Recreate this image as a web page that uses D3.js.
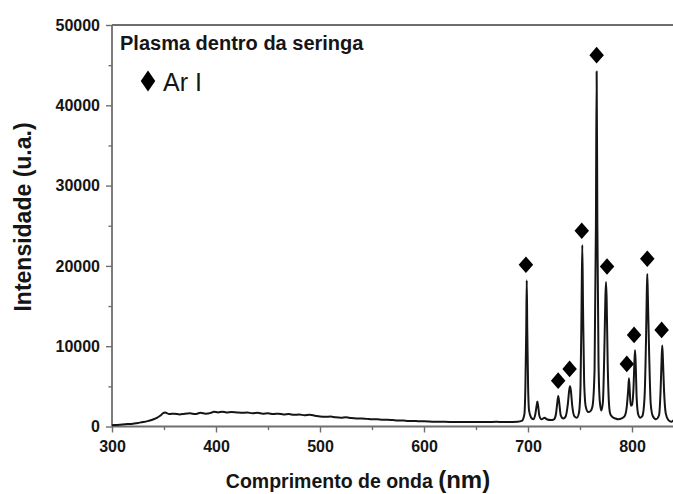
<!DOCTYPE html>
<html><head><meta charset="utf-8">
<script src="https://cdn.jsdelivr.net/npm/d3@7"></script>
<style>
html,body{margin:0;padding:0;background:#fff;}
svg{display:block;font-family:"Liberation Sans",Arial,sans-serif;}
</style></head>
<body>
<svg id="chart" width="673" height="494"></svg>
<script>
// ---- data ----
const xTicks = [300, 400, 500, 600, 700, 800];
const yTicks = [0, 10000, 20000, 30000, 40000, 50000];
const wavelength = [300,305,310,315,320,325,330,335,340,344,347,349,351,355,360,365,370,375,380,385,390,395,398,402,406,410,415,420,425,430,435,440,445,450,455,460,465,470,475,480,485,490,495,500,505,510,515,520,525,530,535,540,545,550,555,560,565,570,575,580,585,590,595,600,610,620,630,640,650,660,670,675,680,690,694,696.5,697.5,698.3,698.8,699.3,700.1,701,703,705,707,708.3,709,709.7,711,713,716,718,722,725,726.8,728.2,729.1,730,731.5,734,736,738.3,739.6,740.4,741.2,742.6,744.5,747,749,750.5,751.5,752.2,752.9,754,755.5,758,760,762,764,765.3,766,766.7,767.8,769,770.5,772,773.5,774.4,775,775.6,776.6,777.8,779,781,784,787,790,793,795,796.3,797.1,797.8,798.8,800,801.5,802.3,802.9,803.5,804.5,806,808,810,812,813.5,814.2,814.7,815.2,816.5,818,820,823,826,827.5,828.5,829.1,829.7,830.8,832.5,835,838,840];
const intensity  = [150,200,250,300,350,450,550,700,900,1150,1400,1650,1750,1550,1600,1500,1600,1650,1550,1700,1600,1700,1850,1750,1850,1750,1800,1750,1700,1750,1650,1700,1600,1650,1550,1600,1500,1550,1450,1500,1400,1450,1350,1250,1200,1250,1150,1100,1150,1050,1000,1000,950,900,900,850,850,800,750,750,700,700,650,650,600,600,550,550,550,550,600,550,550,600,700,1500,5000,12000,18200,12000,5000,2000,1100,900,1500,2600,3100,2600,1300,900,1100,900,800,900,1500,3000,3800,3000,1400,1000,1200,2800,4500,5000,4500,2500,1300,1100,1700,5000,15000,22600,15000,5500,2500,1800,1900,2500,7000,25000,44200,25000,8000,3200,2000,3000,10000,16000,18000,16000,8000,3000,1600,1200,1000,900,1000,1300,2500,4500,6000,4500,2600,2700,5000,8000,9500,8000,3500,1500,1100,1300,3500,11000,16500,19000,16500,9000,2800,1300,900,1400,4500,8500,10100,8500,4500,1600,800,600,800];
const lineNm = [698, 729, 740, 751.7, 766, 776, 795, 802, 814.7, 828.5];
const lineMark = [20140, 5710, 7170, 24380, 46240, 19930, 7790, 11410, 20890, 12030];
const titleText = "Plasma dentro da seringa";
const legendText = "Ar I";

// ---- layout ----
const svg = d3.select("#chart");
const x = d3.scaleLinear().domain([300, 800]).range([112, 632]);
const y = d3.scaleLinear().domain([0, 50000]).range([426.5, 25]);
const axisColor = "#6e6e6e";
const ink = "#151515";

svg.append("defs").append("clipPath").attr("id","plotclip")
  .append("rect").attr("x",112).attr("y",0).attr("width",561).attr("height",430);

// frame top
svg.append("line").attr("x1",x(300)).attr("x2",x(900)).attr("y1",y(50000)).attr("y2",y(50000))
  .attr("stroke",axisColor).attr("stroke-width",1.8);

// minor ticks
const gx = svg.append("g").attr("transform",`translate(0,${y(0)})`);
gx.call(d3.axisBottom(x).tickValues(d3.range(350, 850, 100)).tickSize(3.5).tickFormat(""));
const gy = svg.append("g").attr("transform",`translate(${x(300)},0)`);
gy.call(d3.axisLeft(y).tickValues(d3.range(5000, 50000, 10000)).tickSize(3.5).tickFormat(""));
// major ticks
const gx2 = svg.append("g").attr("transform",`translate(0,${y(0)})`);
gx2.call(d3.axisBottom(x).tickValues(xTicks).tickSize(6).tickPadding(8).tickFormat(d3.format("d")));
const gy2 = svg.append("g").attr("transform",`translate(${x(300)},0)`);
gy2.call(d3.axisLeft(y).tickValues(yTicks).tickSize(6).tickPadding(6).tickFormat(d3.format("d")));

svg.selectAll(".domain").attr("stroke",axisColor).attr("stroke-width",1.8);
svg.selectAll(".tick line").attr("stroke",axisColor).attr("stroke-width",1.4);
svg.selectAll(".tick text").attr("fill",ink).attr("font-size",16).attr("font-weight","bold");
gx.select(".domain").remove(); gy.select(".domain").remove();
gx2.select(".domain").attr("d",`M${x(300)},0H673`);
gy2.select(".domain").attr("d",`M0,${y(0)}V${y(50000)}`);

// spectrum
const pts = wavelength.map((w,i)=>[w, intensity[i]]);
svg.append("path").datum(pts)
  .attr("clip-path","url(#plotclip)")
  .attr("fill","none").attr("stroke",ink).attr("stroke-width",2).attr("stroke-linejoin","round")
  .attr("d", d3.line().x(d=>x(d[0])).y(d=>y(d[1])).curve(d3.curveMonotoneX));

// diamonds
const diamondType = {
  draw(ctx, size) {
    const r = Math.sqrt(size) / 2;
    ctx.moveTo(0, -r * 1.15); ctx.lineTo(r, 0); ctx.lineTo(0, r * 1.15); ctx.lineTo(-r, 0); ctx.closePath();
  }
};
const diamond = d3.symbol().type(diamondType).size(210);
svg.append("g").selectAll("path").data(lineNm).join("path")
  .attr("transform",(d,i)=>`translate(${x(d)},${y(lineMark[i])})`)
  .attr("d", diamond).attr("fill","#000");

// title & legend
svg.append("text").attr("x",120).attr("y",50).attr("font-size",20).attr("font-weight","bold")
  .attr("fill",ink).text(titleText);
svg.append("path").attr("transform","translate(148,81) scale(1,1.25)").attr("d",diamond).attr("fill","#000");
svg.append("text").attr("x",163).attr("y",91).attr("font-size",25).attr("fill",ink).text(legendText);

// axis titles
svg.append("text").attr("transform","translate(31,217) rotate(-90)").attr("text-anchor","middle")
  .attr("font-size",23).attr("font-weight","bold").attr("fill",ink).text("Intensidade (u.a.)");
const xt = svg.append("text").attr("x",358).attr("y",488).attr("text-anchor","middle")
  .attr("font-weight","bold").attr("fill",ink);
xt.append("tspan").attr("font-size",19.5).text("Comprimento de onda ");
xt.append("tspan").attr("font-size",24).text("(nm)");
</script>
</body></html>
